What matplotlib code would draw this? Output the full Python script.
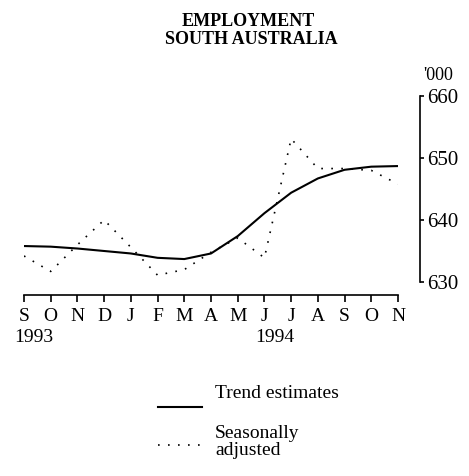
import numpy as np
import matplotlib.pyplot as plt
from matplotlib.lines import Line2D
from matplotlib.transforms import blended_transform_factory

plt.rcParams['font.family'] = ['Liberation Serif', 'DejaVu Serif']

months = ['S', 'O', 'N', 'D', 'J', 'F', 'M', 'A', 'M', 'J', 'J', 'A', 'S', 'O', 'N']
trend = [635.8, 635.7, 635.4, 635.0, 634.6, 633.9, 633.7, 634.6, 637.4, 641.1,
         644.4, 646.7, 648.1, 648.6, 648.7]
seas_adj = [634.2, 631.7, 636.0, 640.0, 635.6, 631.1, 632.0, 634.8, 637.1, 633.9,
            653.1, 648.3, 648.3, 648.0, 645.8]
year_labels = ['1993', '1994']
year_pos = [0.35, 9.4]

W, H = 469, 476
x = np.arange(len(months))

fig = plt.figure(figsize=(W / 100, H / 100), dpi=100)
ax = fig.add_axes([24 / W, 1 - 282 / H, 374 / W, 186 / H])

ax.plot(x, trend, color='black', lw=1.5, solid_capstyle='butt')
ax.plot(x, seas_adj, color='black', lw=1.2, linestyle=(0, (1, 5)))

ax.set_xlim(0, len(months) - 1)
ax.set_ylim(630, 660)

ax.spines['left'].set_visible(False)
ax.spines['top'].set_visible(False)
ax.spines['bottom'].set_position(('outward', 9))
ax.spines['right'].set_position(('outward', 16))
ax.spines['bottom'].set_linewidth(1.2)
ax.spines['right'].set_linewidth(1.2)

ax.yaxis.tick_right()
ax.set_yticks([630, 640, 650, 660])
ax.tick_params(axis='y', direction='out', length=3, width=1.2, labelsize=15, pad=2)
ax.set_xticks(x)
ax.set_xticklabels(months)
ax.tick_params(axis='x', direction='out', length=5, width=1.2, labelsize=14, pad=5)

ax.text(423 / W, 1 - 75 / H, "'000", transform=fig.transFigure, fontsize=13,
        ha='left', va='center')

tr = blended_transform_factory(ax.transData, fig.transFigure)
for lab, pos in zip(year_labels, year_pos):
    ax.text(pos, 1 - 338 / H, lab, transform=tr, fontsize=14, ha='center', va='center')

fig.text(0.53, 1 - 21 / H, 'EMPLOYMENT', fontsize=13, fontweight='bold',
         ha='center', va='center')
fig.text(0.535, 1 - 39 / H, 'SOUTH AUSTRALIA', fontsize=13, fontweight='bold',
         ha='center', va='center')

# legend
fig.add_artist(Line2D([158 / W, 202 / W], [1 - 407 / H, 1 - 407 / H],
                      transform=fig.transFigure, color='black', lw=1.5))
fig.add_artist(Line2D([158 / W, 202 / W], [1 - 445 / H, 1 - 445 / H],
                      transform=fig.transFigure, color='black', lw=1.2,
                      linestyle=(0, (1, 5))))
fig.text(215 / W, 1 - 393 / H, 'Trend estimates', fontsize=14, ha='left', va='center')
fig.text(215 / W, 1 - 442 / H, 'Seasonally\nadjusted', fontsize=14, ha='left',
         va='center', linespacing=1.0)

fig.savefig('out.png', dpi=100)
